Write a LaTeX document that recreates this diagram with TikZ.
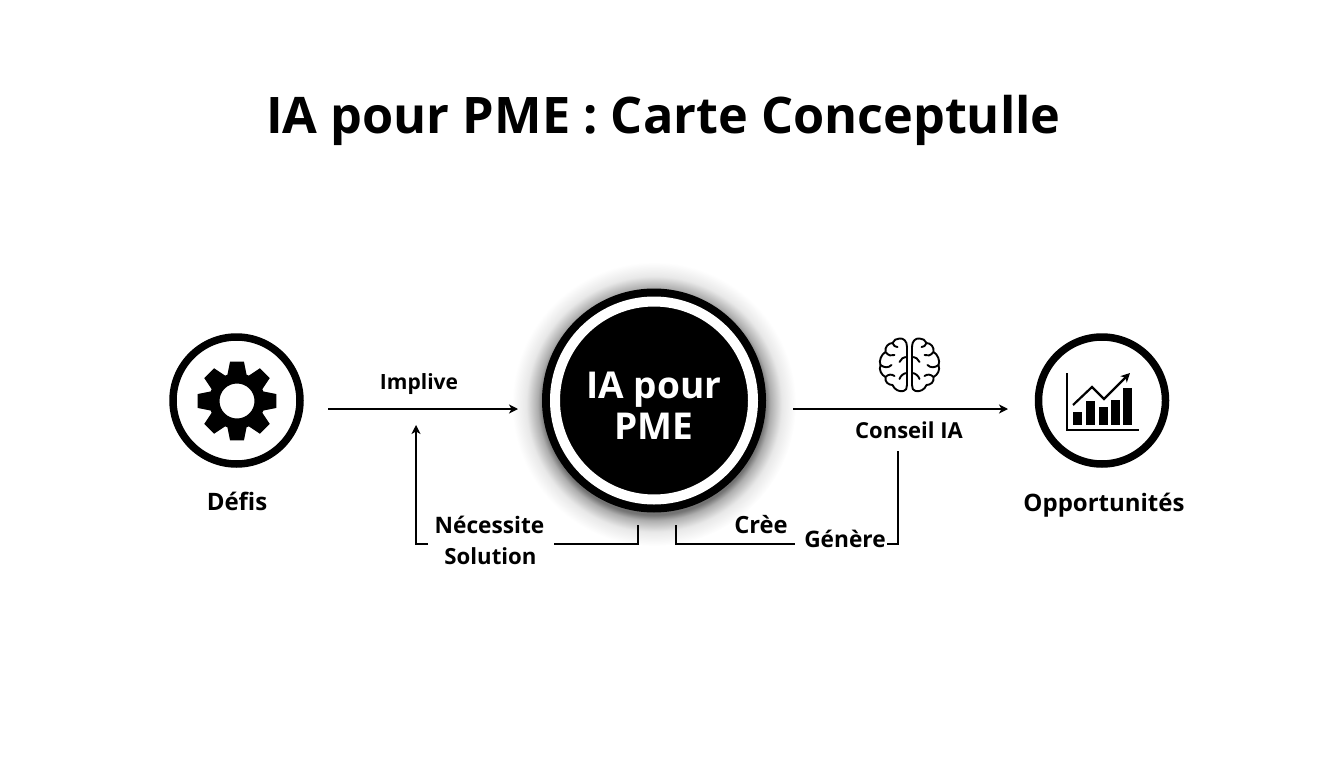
\documentclass[tikz,border=0pt]{standalone}
\usepackage{fontspec}
\usetikzlibrary{arrows.meta}
\setmainfont{Open Sans}

\pgfdeclareradialshading{halo}{\pgfpoint{0bp}{0bp}}{%
  color(0bp)=(black!55);
  color(19.5bp)=(black!55);
  color(20.5bp)=(black!32);
  color(22.5bp)=(black!9);
  color(25bp)=(white);
  color(50bp)=(white)}

\begin{document}
\begin{tikzpicture}
[
  x=1pt, y=-1pt,
  >={Stealth[length=9pt, width=9pt, inset=2.5pt]},
  ring/.style = {draw=black, line width=7.5pt, fill=white, circle, minimum size=127pt, inner sep=0pt},
  heading/.style = {anchor=base, font=\bfseries\fontsize{50.4}{50.4}\selectfont},
  lab/.style = {anchor=base, font=\bfseries\fontsize{#1}{#1}\selectfont},
  hublab/.style = {anchor=base, text=white, font=\bfseries\fontsize{37}{37}\selectfont},
  link/.style = {line width=1.5pt},
  thin link/.style = {line width=1.2pt},
]
\useasboundingbox (0,0) rectangle (1344,768);

\node (title) at (663.5,133) [heading] {IA pour PME : Carte Conceptulle};

% centre
\shade[shading=halo] (654,404) circle (142);
\node (hub) at (654,400.5) [circle, fill=black, minimum size=224pt, inner sep=0pt] {};
\node (hubring) at (654,400.5) [circle, draw=white, line width=10pt, minimum size=198pt, inner sep=0pt] {};
\node (hubA) at (654,398) [hublab] {IA pour};
\node (hubB) at (654,439) [hublab] {PME};

% left
\node (defis) at (236.5,400.5) [ring] {};
\begin{scope}[shift={(237,401)}, x=1pt, y=1pt]
  \fill[even odd rule] (-21:28)
    \foreach \a in {0,45,...,315} { -- (\a-20:28) -- (\a-10:40) -- (\a+10:40) -- (\a+20:28) } -- cycle
    (0,0) circle (17.5);
\end{scope}
\node (defislab) at (237,510) [lab=24] {Défis};

% right
\node (opp) at (1102,400.5) [ring] {};
\node (opplab) at (1104,511) [lab=24] {Opportunités};
\fill (1073,412) rectangle (1082,424.5);
\fill (1086,401) rectangle (1095,424.5);
\fill (1099,407) rectangle (1107.5,424.5);
\fill (1111,400) rectangle (1119.5,424.5);
\fill (1123,388) rectangle (1132,424.5);
\coordinate (axT) at (1067,373);
\coordinate (axO) at (1067,429.5);
\coordinate (axR) at (1139,429.5);
\draw[line width=2pt] (axT) -- (axO) -- (axR);
\coordinate (tr1) at (1073,405);
\coordinate (tr2) at (1092,387);
\coordinate (tr3) at (1104,399);
\coordinate (tr4) at (1130,373);
\draw[->, line width=2.2pt] (tr1) -- (tr2) -- (tr3) -- (tr4);

% brain
\begin{scope}[shift={(909.5,365)}, x=1pt, y=1pt, line width=1.9pt, line cap=round, line join=round]
  \foreach \s in {1,-1} {
    \begin{scope}[xscale=\s]
      \draw (-2.5,18) .. controls (-2.5,24) and (-6,27) .. (-10,26.5)
        .. controls (-13,26.5) and (-16,25) .. (-17,22)
        .. controls (-21,22) and (-25,18) .. (-24,13)
        .. controls (-28,11) and (-31,4) .. (-29,0)
        .. controls (-31,-5) and (-28,-10) .. (-24,-12)
        .. controls (-25,-17) and (-21,-20) .. (-17,-20)
        .. controls (-15,-25) and (-10,-27) .. (-6,-26)
        .. controls (-3.5,-26) and (-2.5,-23) .. (-2.5,-20) -- cycle;
      \draw (-17,22) .. controls (-16,19) and (-14,18) .. (-12,18);
      \draw (-24,13) .. controls (-21,9) and (-18,9) .. (-15,10);
      \draw (-2.5,8) .. controls (-6,8) and (-9,6) .. (-10,3);
      \draw (-29,0) .. controls (-25,-3) and (-21,-3) .. (-18,0);
      \draw (-24,-12) .. controls (-21,-9) and (-18,-9) .. (-15,-11);
      \draw (-2.5,-8) .. controls (-6,-8) and (-9,-11) .. (-10,-14);
    \end{scope}
  }
\end{scope}

% connectors
\coordinate (inS) at (328,409);
\coordinate (inE) at (518,409);
\draw[->, link] (inS) -- (inE);
\node (implive) at (419,389) [lab=21] {Implive};

\coordinate (outS) at (793,409);
\coordinate (outE) at (1008,409);
\draw[->, link] (outS) -- (outE);
\node (conseil) at (909,438) [lab=22] {Conseil IA};

\coordinate (needA) at (638,525);
\coordinate (needB) at (638,544);
\coordinate (needC) at (554,544);
\draw[thin link] (needA) -- (needB) -- (needC);
\coordinate (needD) at (428,544);
\coordinate (needE) at (416,544);
\coordinate (needF) at (416,425);
\draw[->, thin link] (needD) -- (needE) -- (needF);
\node (necessite) at (489.5,533) [lab=22.7] {Nécessite};
\node (solution) at (490.5,564) [lab=22.2] {Solution};

\coordinate (creeA) at (676,525);
\coordinate (creeB) at (676,544);
\coordinate (creeC) at (795,544);
\draw[thin link] (creeA) -- (creeB) -- (creeC);
\coordinate (genA) at (887,544);
\coordinate (genB) at (898,544);
\coordinate (genC) at (898,451);
\draw[thin link] (genA) -- (genB) -- (genC);
\node (cree) at (761,533) [lab=23.7] {Crèe};
\node (genere) at (845,547) [lab=22.7] {Génère};

\end{tikzpicture}
\end{document}
